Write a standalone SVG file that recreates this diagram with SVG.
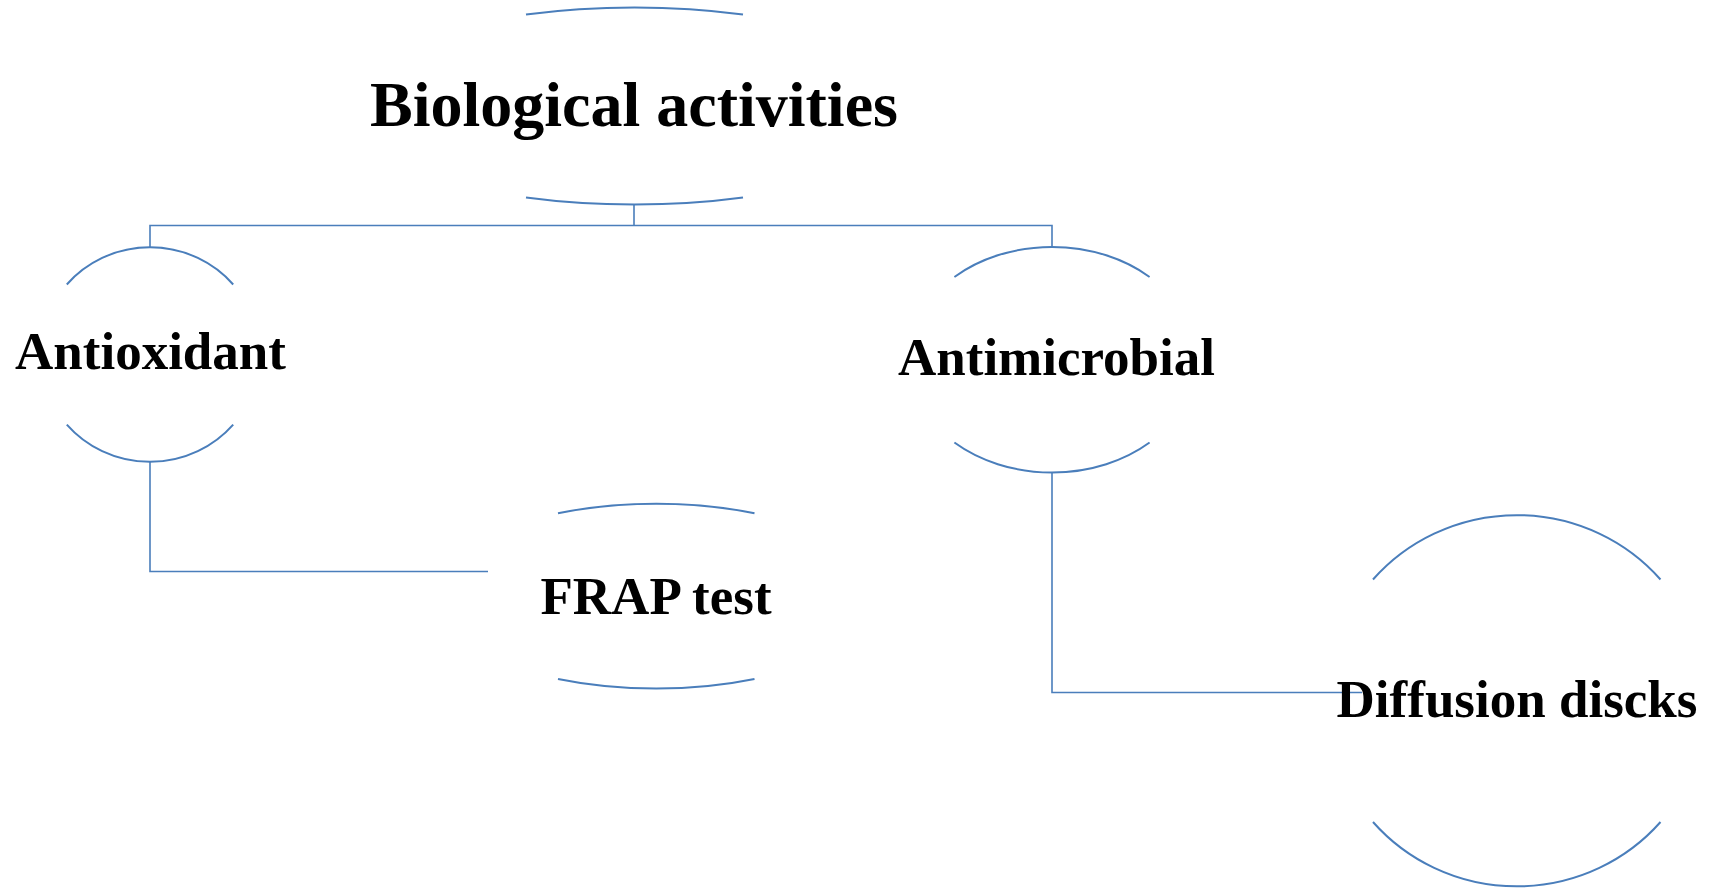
<svg xmlns="http://www.w3.org/2000/svg" width="1716" height="889" viewBox="0 0 1716 889">
<style>
.arc{fill:none;stroke:#4a7ebb;stroke-width:2}
.con{fill:none;stroke:#4a7ebb;stroke-width:1.6}
.lbl{font-family:"Liberation Serif","Times New Roman",serif;font-weight:bold;fill:#000;text-anchor:middle}
</style>
<rect width="1716" height="889" fill="#fff"/>
<g id="connectors">
<path class="con" d="M634 205 V225.5 M150 247 V225.5 H1052 V247"/>
<path class="con" d="M150 462 V571.5 H488"/>
<path class="con" d="M1052 472.5 V692.5 H1362"/>
</g>
<g id="node-biological">
<path class="arc" d="M526 14.5 A293 98.75 0 0 1 743 14.5"/>
<path class="arc" d="M526 197.5 A293 98.75 0 0 0 743 197.5"/>
<text class="lbl" x="634" y="126" font-size="64">Biological activities</text>
</g>
<g id="node-antioxidant">
<path class="arc" d="M66.8 284.5 A109.8 107.2 0 0 1 233.2 284.5"/>
<path class="arc" d="M66.8 424.6 A109.8 107.2 0 0 0 233.2 424.6"/>
<text class="lbl" x="150.5" y="369" font-size="53">Antioxidant</text>
</g>
<g id="node-antimicrobial">
<path class="arc" d="M954.4 277 A143.5 112.5 0 0 1 1149.6 277"/>
<path class="arc" d="M954.4 442.5 A143.5 112.5 0 0 0 1149.6 442.5"/>
<text class="lbl" x="1056.5" y="375" font-size="53">Antimicrobial</text>
</g>
<g id="node-frap">
<path class="arc" d="M558 513.3 A222 92.6 0 0 1 754.5 513.3"/>
<path class="arc" d="M558 679 A222 92.6 0 0 0 754.5 679"/>
<text class="lbl" x="656" y="613.5" font-size="53">FRAP test</text>
</g>
<g id="node-diffusion">
<path class="arc" d="M1373 579.5 A190 186 0 0 1 1660.5 579.5"/>
<path class="arc" d="M1373 822 A190 186 0 0 0 1660.5 822"/>
<text class="lbl" x="1517" y="717" font-size="53">Diffusion discks</text>
</g>
</svg>
